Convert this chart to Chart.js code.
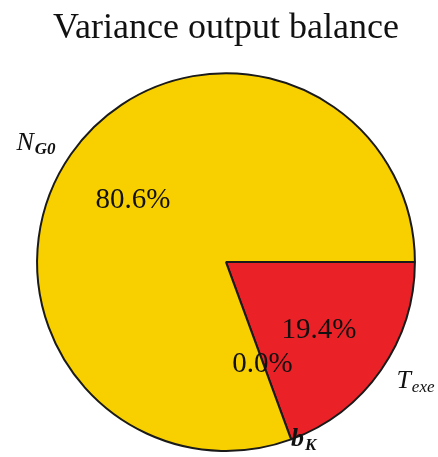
<!DOCTYPE html>
<html>
<head>
<meta charset="utf-8">
<script src="https://cdn.jsdelivr.net/npm/chart.js@4.4.1/dist/chart.umd.min.js"></script>
<style>
	html, body { margin: 0; padding: 0; background: #fff; }
	#wrap { width: 438px; height: 457px; }
</style>
</head>
<body>
<div id="wrap"><canvas id="pie"></canvas></div>
<script>
// Parts of the variance, clockwise from 3 o'clock
const categories = ['T_exe', 'b_K', 'N_G0'];
const shares = [19.4, 0.0, 80.6];
const sliceColors = ['#ea2227', '#1f77b4', '#f8d000'];

const serif = "'Liberation Serif', 'Times New Roman', serif";

// Writes "X_sub" as an italic symbol with a smaller subscript
function drawMathLabel(ctx, text, x, y, align, bold) {
	const [main, sub] = text.split('_');
	const mainFont = (bold ? 'italic bold ' : 'italic ') + '26px ' + serif;
	const subFont = (sub === 'exe' ? 'italic ' : 'italic bold ') + '17px ' + serif;
	ctx.font = mainFont;
	const wMain = ctx.measureText(main).width;
	ctx.font = subFont;
	const wSub = ctx.measureText(sub).width;
	const total = wMain + 1 + wSub;
	let left = align === 'left' ? x : x - total;
	ctx.textAlign = 'left';
	ctx.textBaseline = 'middle';
	ctx.font = mainFont;
	ctx.fillText(main, left, y);
	ctx.font = subFont;
	ctx.fillText(sub, left + wMain + 1, y + 6);
}

const sliceLabels = {
	id: 'sliceLabels',
	afterDatasetsDraw(chart) {
		const ctx = chart.ctx;
		const meta = chart.getDatasetMeta(0);
		const labelDist = [1.1, 1.0, 1.1];
		const pctDist = [0.6, 0.56, 0.6];
		ctx.save();
		ctx.fillStyle = '#111';
		meta.data.forEach((arc, i) => {
			const { x, y, startAngle, endAngle, outerRadius } = arc.getProps(['x', 'y', 'startAngle', 'endAngle', 'outerRadius'], true);
			const mid = (startAngle + endAngle) / 2;
			const cos = Math.cos(mid), sin = Math.sin(mid);

			// percentage inside the slice
			ctx.font = '29px ' + serif;
			ctx.textAlign = 'center';
			ctx.textBaseline = 'middle';
			const p = outerRadius * pctDist[i];
			ctx.fillText(shares[i].toFixed(1) + '%', x + cos * p, y + sin * p + 3);

			// category name outside
			const d = outerRadius * labelDist[i];
			drawMathLabel(ctx, categories[i], x + cos * d, y + sin * d, cos > 0 ? 'left' : 'right', categories[i] === 'b_K');
		});
		ctx.restore();
	}
};

new Chart(document.getElementById('pie'), {
	type: 'pie',
	data: {
		labels: categories,
		datasets: [{
			data: shares,
			backgroundColor: sliceColors,
			borderColor: '#1a1a1a',
			borderWidth: 2
		}]
	},
	options: {
		responsive: true,
		maintainAspectRatio: false,
		animation: false,
		events: [],
		rotation: 90,
		layout: { padding: { left: 36, right: 22, top: 0, bottom: 5 } },
		plugins: {
			legend: { display: false },
			tooltip: { enabled: false },
			title: {
				display: true,
				text: 'Variance output balance',
				color: '#111',
				font: { family: serif, size: 36, weight: 'normal' },
				padding: { top: 7, bottom: 22 }
			}
		}
	},
	plugins: [sliceLabels]
});
</script>
</body>
</html>
